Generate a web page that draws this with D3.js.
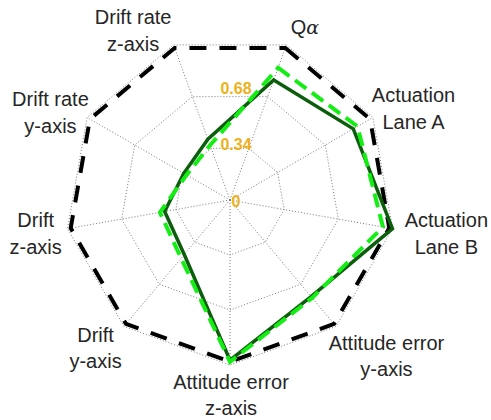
<!DOCTYPE html>
<html>
<head>
<meta charset="utf-8">
<script src="https://cdn.jsdelivr.net/npm/d3@7"></script>
<style>
  html, body { margin: 0; padding: 0; background: #ffffff; }
  svg { display: block; }
</style>
</head>
<body>
<svg id="chart" width="491" height="420"></svg>
<script>
// Axis names, clockwise starting just right of the top (each entry = text lines)
const categories = [
  ["Q\u03b1"],
  ["Actuation", "Lane A"],
  ["Actuation", "Lane B"],
  ["Attitude error", "y-axis"],
  ["Attitude error", "z-axis"],
  ["Drift", "y-axis"],
  ["Drift", "z-axis"],
  ["Drift rate", "y-axis"],
  ["Drift rate", "z-axis"]
];

// Normalised scores per axis
const referenceValues = [1.00, 1.00, 1.00, 1.00, 1.00, 1.00, 1.00, 1.00, 1.00];
const solidValues     = [0.79, 0.88, 1.02, 0.78, 0.99, 0.44, 0.41, 0.33, 0.40];
const dashedValues    = [0.87, 0.91, 0.96, 0.79, 1.00, 0.47, 0.44, 0.31, 0.36];

// Grid rings and the labelled ones
const ringValues = [0.34, 0.68, 1.02];
const tickValues = [0, 0.34, 0.68];
const tickLabels = ["0", "0.34", "0.68"];

// ---- layout ----
const svg = d3.select("#chart");
const cx = 230, cy = 200;
const outerR = 165;
const rScale = d3.scaleLinear().domain([0, 1.02]).range([0, outerR]);

const n = categories.length;
const angleStep = 2 * Math.PI / n;
const angleOf = i => (20 * Math.PI / 180) + i * angleStep; // radians, 0 = up, clockwise

const g = svg.append("g").attr("transform", `translate(${cx},${cy})`);

const pt = (i, v) => {
  const a = angleOf(i), r = rScale(v);
  return [r * Math.sin(a), -r * Math.cos(a)];
};

// ---- grid: spokes and rings (dotted) ----
const gridStyle = sel => sel
  .attr("fill", "none")
  .attr("stroke", "#7a7a7a")
  .attr("stroke-width", 1)
  .attr("stroke-dasharray", "1,2");

g.selectAll("line.spoke")
  .data(d3.range(n))
  .join("line")
  .attr("class", "spoke")
  .attr("x1", 0).attr("y1", 0)
  .attr("x2", i => pt(i, ringValues[ringValues.length - 1])[0])
  .attr("y2", i => pt(i, ringValues[ringValues.length - 1])[1])
  .call(gridStyle);

const radial = d3.lineRadial()
  .angle((d, i) => angleOf(i))
  .radius(d => rScale(d))
  .curve(d3.curveLinearClosed);

g.selectAll("path.ring")
  .data(ringValues)
  .join("path")
  .attr("class", "ring")
  .attr("d", v => radial(d3.range(n).map(() => v)))
  .call(gridStyle);

// ---- series ----
g.append("path")
  .attr("d", radial(referenceValues))
  .attr("fill", "none")
  .attr("stroke", "#000000")
  .attr("stroke-width", 4)
  .attr("stroke-dasharray", "17,13")
  .attr("stroke-linejoin", "miter");

g.append("path")
  .attr("d", radial(solidValues))
  .attr("fill", "none")
  .attr("stroke", "#0c5e0c")
  .attr("stroke-width", 3.5)
  .attr("stroke-linejoin", "miter");

g.append("path")
  .attr("d", radial(dashedValues))
  .attr("fill", "none")
  .attr("stroke", "#14ee14")
  .attr("stroke-width", 4)
  .attr("stroke-dasharray", "14,7")
  .attr("stroke-linejoin", "miter");

// ---- ring value labels ----
g.selectAll("text.tick")
  .data(tickValues)
  .join("text")
  .attr("class", "tick")
  .attr("x", 6)
  .attr("y", v => -rScale(v) * 1.02 + 1)
  .attr("text-anchor", "middle")
  .attr("dominant-baseline", "central")
  .attr("font-family", "Liberation Sans, Arial, sans-serif")
  .attr("font-size", 16)
  .attr("font-weight", "bold")
  .attr("fill", "#EDB120")
  .text((v, i) => tickLabels[i]);

// ---- axis labels ----
const labelRadius = 175;
// per-label offsets of the text block from its anchor point on the label circle
const labelNudge = [
  [15, -9], [32, -4], [44, 3], [44, 22], [1, 20],
  [-22, 14], [-22, 3], [-28, 0], [-37, -5]
];
const lineGap = 26.5;

categories.forEach((lines, i) => {
  const a = angleOf(i);
  const bx = labelRadius * Math.sin(a) + labelNudge[i][0];
  const by = -labelRadius * Math.cos(a) + labelNudge[i][1];
  const t = g.append("text")
    .attr("text-anchor", "middle")
    .attr("font-family", "Liberation Sans, Arial, sans-serif")
    .attr("font-size", 20)
    .attr("fill", "#262626");
  lines.forEach((line, k) => {
    const y = by + (k - (lines.length - 1) / 2) * lineGap;
    const span = t.append("tspan")
      .attr("x", bx)
      .attr("y", y)
      .attr("dominant-baseline", "central");
    if (line.includes("\u03b1")) {
      span.text(line.replace("\u03b1", ""));
      span.append("tspan")
        .attr("font-style", "italic")
        .attr("font-family", "DejaVu Serif, serif")
        .attr("font-size", 19)
        .text("\u03b1");
    } else {
      span.text(line);
    }
  });
});
</script>
</body>
</html>
